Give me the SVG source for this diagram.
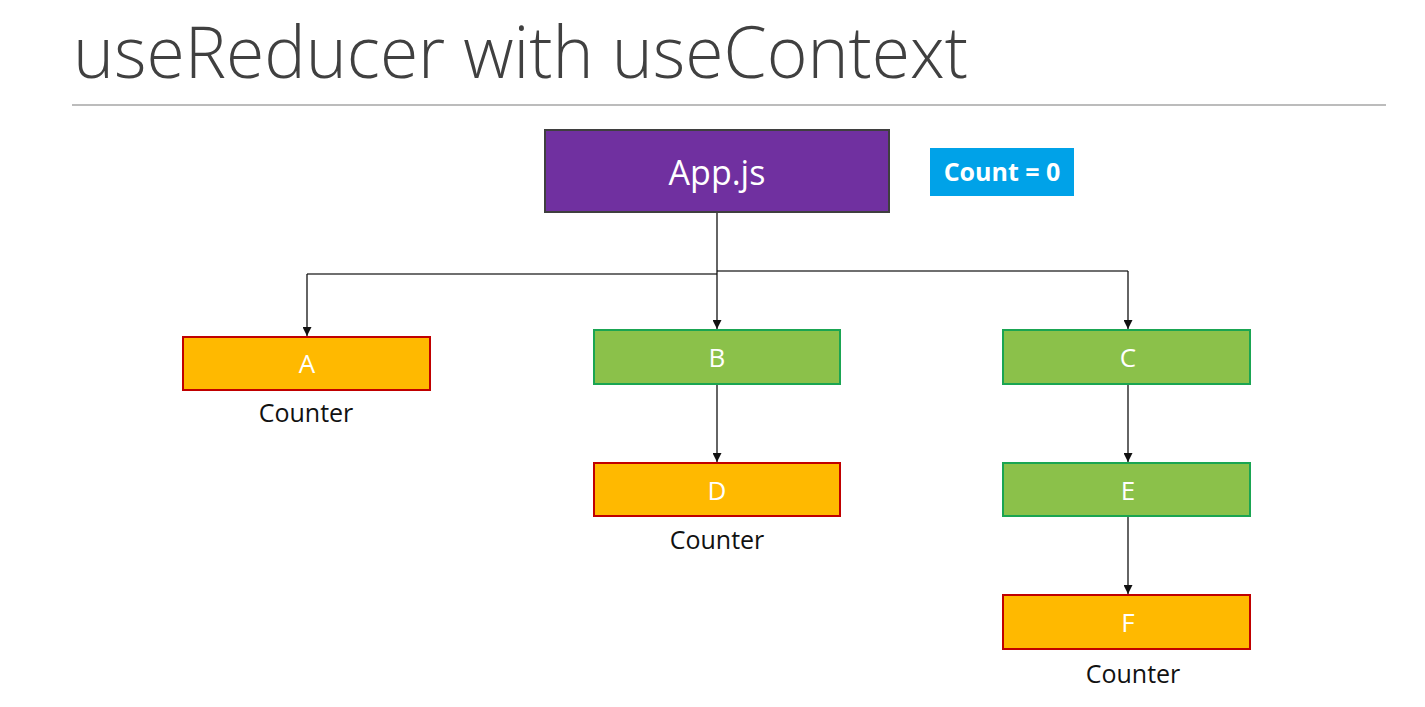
<svg xmlns="http://www.w3.org/2000/svg" width="1425" height="707" viewBox="0 0 1425 707">
  <style>
    .title { font-family: "Open Sans", "Noto Sans", sans-serif; font-weight: 300; font-size: 72px; fill: #404040; }
    .label { font-family: "Open Sans", "Noto Sans", sans-serif; font-size: 26px; fill: #ffffff; text-anchor: middle; }
    .caption { font-family: "Open Sans", "Noto Sans", sans-serif; font-size: 25px; fill: #111111; text-anchor: middle; }
    .orange { fill: #ffb900; stroke: #c00000; stroke-width: 2; }
    .green { fill: #8bc14a; stroke: #1aa552; stroke-width: 2; }
    .wire { fill: none; stroke: #111111; stroke-width: 1.3; }
    .bus { fill: none; stroke: #6f6f6f; stroke-width: 2; }
  </style>
  <defs>
    <marker id="arrow" viewBox="0 0 10 10" refX="10" refY="5" markerWidth="9" markerHeight="9" markerUnits="userSpaceOnUse" orient="auto">
      <path d="M0,0 L10,5 L0,10 Z" fill="#111111"/>
    </marker>
  </defs>
  <rect width="1425" height="707" fill="#ffffff"/>

  <!-- heading -->
  <text class="title" x="73" y="78" textLength="895" lengthAdjust="spacingAndGlyphs">useReducer with useContext</text>
  <line x1="72" y1="105" x2="1386" y2="105" stroke="#a6a6a6" stroke-width="1.5"/>

  <!-- connectors -->
  <g id="connectors">
    <path class="bus" d="M717,274 H307"/>
    <path class="bus" d="M717,271 H1128"/>
    <path class="wire" d="M307,274 V336" marker-end="url(#arrow)"/>
    <path class="wire" d="M1128,271 V329" marker-end="url(#arrow)"/>
    <path class="wire" d="M717,212 V329" marker-end="url(#arrow)"/>
    <path class="wire" d="M717,384 V462" marker-end="url(#arrow)"/>
    <path class="wire" d="M1128,384 V462" marker-end="url(#arrow)"/>
    <path class="wire" d="M1128,516 V594" marker-end="url(#arrow)"/>
  </g>

  <!-- nodes -->
  <g id="app">
    <rect x="545" y="130" width="344" height="82" fill="#7030a0" stroke="#3f3f3f" stroke-width="2"/>
    <text class="label" x="717" y="185" style="font-size:34px">App.js</text>
  </g>
  <g id="count">
    <rect x="930" y="148" width="144" height="48" fill="#00a2e8"/>
    <text class="label" x="1002" y="181" style="font-size:25px;font-weight:bold">Count = 0</text>
  </g>
  <g id="node-a">
    <rect class="orange" x="183" y="337" width="247" height="53"/>
    <text class="label" x="307" y="373">A</text>
    <text class="caption" x="306" y="422">Counter</text>
  </g>
  <g id="node-b">
    <rect class="green" x="594" y="330" width="246" height="54"/>
    <text class="label" x="717" y="367">B</text>
  </g>
  <g id="node-c">
    <rect class="green" x="1003" y="330" width="247" height="54"/>
    <text class="label" x="1128" y="367">C</text>
  </g>
  <g id="node-d">
    <rect class="orange" x="594" y="463" width="246" height="53"/>
    <text class="label" x="717" y="500">D</text>
    <text class="caption" x="717" y="549">Counter</text>
  </g>
  <g id="node-e">
    <rect class="green" x="1003" y="463" width="247" height="53"/>
    <text class="label" x="1128" y="500">E</text>
  </g>
  <g id="node-f">
    <rect class="orange" x="1003" y="595" width="247" height="54"/>
    <text class="label" x="1128" y="632">F</text>
    <text class="caption" x="1133" y="683">Counter</text>
  </g>
</svg>
